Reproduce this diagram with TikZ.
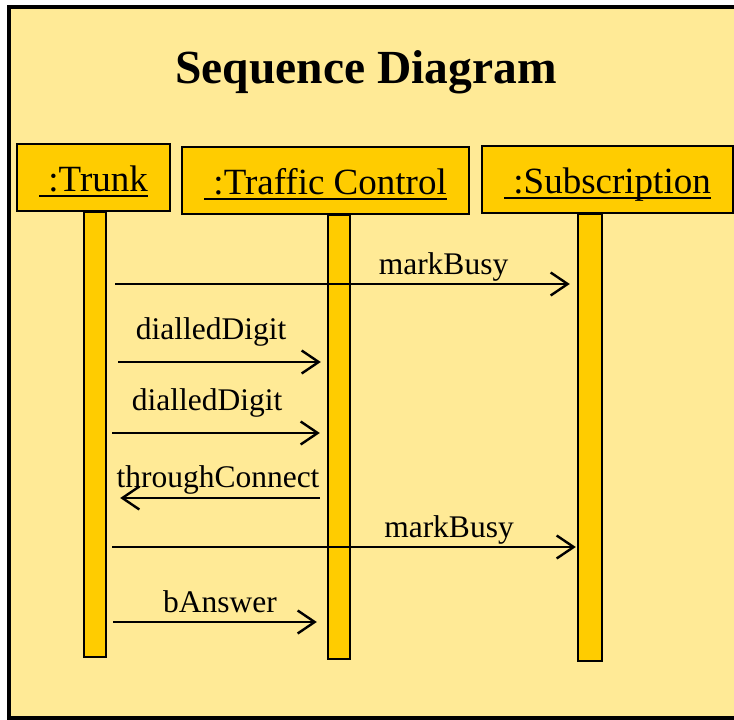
\documentclass[tikz,border=0pt]{standalone}
\usepackage{fontspec}
\setmainfont{Liberation Serif}
\usetikzlibrary{arrows.meta}

\definecolor{paneyellow}{HTML}{FFEA96}
\definecolor{boxyellow}{HTML}{FFCC00}

% underline at a fixed depth below the baseline
\newcommand\objname[1]{\setbox0\hbox{#1}\rlap{\rule[-6pt]{\wd0}{2.2pt}}\box0}

\tikzset{
  objbox/.style={draw=black, line width=2.8pt, fill=boxyellow, inner sep=0pt},
  objlabel/.style={anchor=base, inner sep=0pt, font=\fontsize{37}{40}\selectfont},
  lifebar/.style={draw=black, line width=2.4pt, fill=boxyellow, inner sep=0pt,
                  minimum width=22pt, anchor=north},
  msg/.style={line width=2.4pt, -{Straight Barb[length=17pt,width=23pt]}},
  msglabel/.style={anchor=base, inner sep=0pt, font=\fontsize{31.5}{34}\selectfont},
}

\begin{document}
\begin{tikzpicture}[x=1pt, y=-1pt]
\useasboundingbox (0,0) rectangle (734,720);
\fill[white] (0,0) rectangle (734,720);

% outer frame
\draw[line width=3.2pt, fill=paneyellow] (9,7) rectangle (770,718);

% title
\node[anchor=base, inner sep=0pt, font=\fontsize{47.5}{50}\selectfont\bfseries]
  (title) at (366,83) {Sequence Diagram};

% lifelines
\node[lifebar, minimum height=445pt] (tl) at (95,211) {};
\node[lifebar, minimum height=444pt] (cl) at (339,214) {};
\node[lifebar, minimum height=447pt, minimum width=24pt] (sl) at (590,213) {};

% object boxes
\node[objbox, minimum width=153pt, minimum height=67pt] (tbox) at (93.5,177.5) {};
\node[objbox, minimum width=287pt, minimum height=67pt] (cbox) at (325.5,180.5) {};
\node[objbox, minimum width=251pt, minimum height=67pt] (sbox) at (607.5,179.5) {};
\node[objlabel] (tname) at (93.5,191) {\objname{\ :Trunk}};
\node[objlabel] (cname) at (325.5,194) {\objname{\ :Traffic Control}};
\node[objlabel] (sname) at (607.5,193) {\objname{\ :Subscription}};

% message rows
\coordinate (m1) at (0,284);
\coordinate (m2) at (0,362);
\coordinate (m3) at (0,433);
\coordinate (m4) at (0,498);
\coordinate (m5) at (0,547);
\coordinate (m6) at (0,622);

% messages
\draw[msg, shorten <=8pt, shorten >=7pt] (tl.east |- m1) -- (sl.west |- m1);
\draw[msg, shorten <=11pt, shorten >=6pt] (tl.east |- m2) -- (cl.west |- m2);
\draw[msg, shorten <=5pt, shorten >=7pt] (tl.east |- m3) -- (cl.west |- m3);
\draw[msg, shorten <=7pt, shorten >=13pt] (cl.west |- m4) -- (tl.east |- m4);
\draw[msg, shorten <=5pt, shorten >=1pt] (tl.east |- m5) -- (sl.west |- m5);
\draw[msg, shorten <=6pt, shorten >=10pt] (tl.east |- m6) -- (cl.west |- m6);

% message labels
\node[msglabel] (l1) at (443.5,274) {markBusy};
\node[msglabel] (l2) at (211,339) {dialledDigit};
\node[msglabel] (l3) at (207,410) {dialledDigit};
\node[msglabel] (l4) at (218,487) {throughConnect};
\node[msglabel] (l5) at (449,537) {markBusy};
\node[msglabel] (l6) at (220,612) {bAnswer};
\end{tikzpicture}
\end{document}
